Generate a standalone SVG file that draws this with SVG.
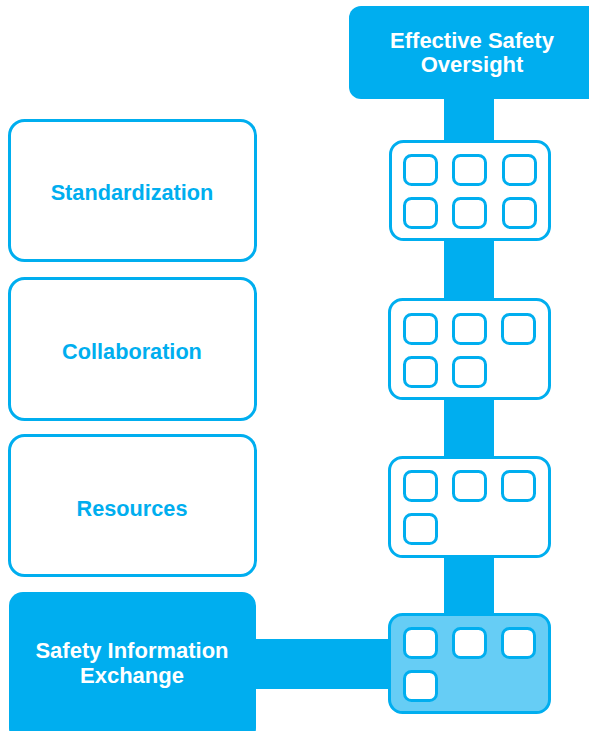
<svg xmlns="http://www.w3.org/2000/svg" width="589" height="731" viewBox="0 0 589 731">
<style>
.out{fill:#fff;stroke:#00AEEF;stroke-width:3}
.solid{fill:#00AEEF}
.cell{fill:#fff;stroke:#00AEEF;stroke-width:3}
.lbl{font-family:"Liberation Sans",Arial,sans-serif;font-weight:bold;font-size:21.7px;text-anchor:middle;fill:#00AEEF}
.wlbl{font-family:"Liberation Sans",Arial,sans-serif;font-weight:bold;font-size:22px;text-anchor:middle;fill:#fff}
</style>
<rect width="589" height="731" fill="#fff"/>
<g id="connectors">
<rect class="solid" x="444" y="90" width="50" height="530"/>
<rect class="solid" x="250" y="639" width="145" height="50"/>
</g>
<g id="oversight">
<rect class="solid" x="349" y="6" width="260" height="93" rx="12"/>
<text class="wlbl" x="472" y="48">Effective Safety</text>
<text class="wlbl" x="472" y="72">Oversight</text>
</g>
<g id="standardization">
<rect class="out" x="9.5" y="120.5" width="246" height="140" rx="15"/>
<text class="lbl" x="132" y="200">Standardization</text>
</g>
<g id="collaboration">
<rect class="out" x="9.5" y="278.5" width="246" height="141" rx="15"/>
<text class="lbl" x="132" y="359">Collaboration</text>
</g>
<g id="resources">
<rect class="out" x="9.5" y="435.5" width="246" height="140" rx="15"/>
<text class="lbl" x="132" y="516">Resources</text>
</g>
<g id="safety-information-exchange">
<rect class="solid" x="9" y="592" width="247" height="150" rx="14"/>
<text class="wlbl" x="132" y="658">Safety Information</text>
<text class="wlbl" x="132" y="683">Exchange</text>
</g>
<g id="panel-1">
<rect class="out" x="390.5" y="141.5" width="159" height="98" rx="13"/>
<rect class="cell" x="404.5" y="155.5" width="32" height="29" rx="7"/>
<rect class="cell" x="453.5" y="155.5" width="32" height="29" rx="7"/>
<rect class="cell" x="503.5" y="155.5" width="32" height="29" rx="7"/>
<rect class="cell" x="404.5" y="198.5" width="32" height="29" rx="7"/>
<rect class="cell" x="453.5" y="198.5" width="32" height="29" rx="7"/>
<rect class="cell" x="503.5" y="198.5" width="32" height="29" rx="7"/>
</g>
<g id="panel-2">
<rect class="out" x="389.5" y="299.5" width="160" height="99" rx="13"/>
<rect class="cell" x="404.5" y="314.5" width="32" height="29" rx="7"/>
<rect class="cell" x="453.5" y="314.5" width="32" height="29" rx="7"/>
<rect class="cell" x="502.5" y="314.5" width="32" height="29" rx="7"/>
<rect class="cell" x="404.5" y="357.5" width="32" height="29" rx="7"/>
<rect class="cell" x="453.5" y="357.5" width="32" height="29" rx="7"/>
</g>
<g id="panel-3">
<rect class="out" x="389.5" y="457.5" width="160" height="99" rx="13"/>
<rect class="cell" x="404.5" y="471.5" width="32" height="29" rx="7"/>
<rect class="cell" x="453.5" y="471.5" width="32" height="29" rx="7"/>
<rect class="cell" x="502.5" y="471.5" width="32" height="29" rx="7"/>
<rect class="cell" x="404.5" y="514.5" width="32" height="29" rx="7"/>
</g>
<g id="panel-4">
<rect x="389.5" y="614.5" width="160" height="98" rx="13" fill="#66CDF5" stroke="#00AEEF" stroke-width="3"/>
<rect class="cell" x="404.5" y="628.5" width="32" height="29" rx="7"/>
<rect class="cell" x="453.5" y="628.5" width="32" height="29" rx="7"/>
<rect class="cell" x="502.5" y="628.5" width="32" height="29" rx="7"/>
<rect class="cell" x="404.5" y="671.5" width="32" height="29" rx="7"/>
</g>
</svg>
